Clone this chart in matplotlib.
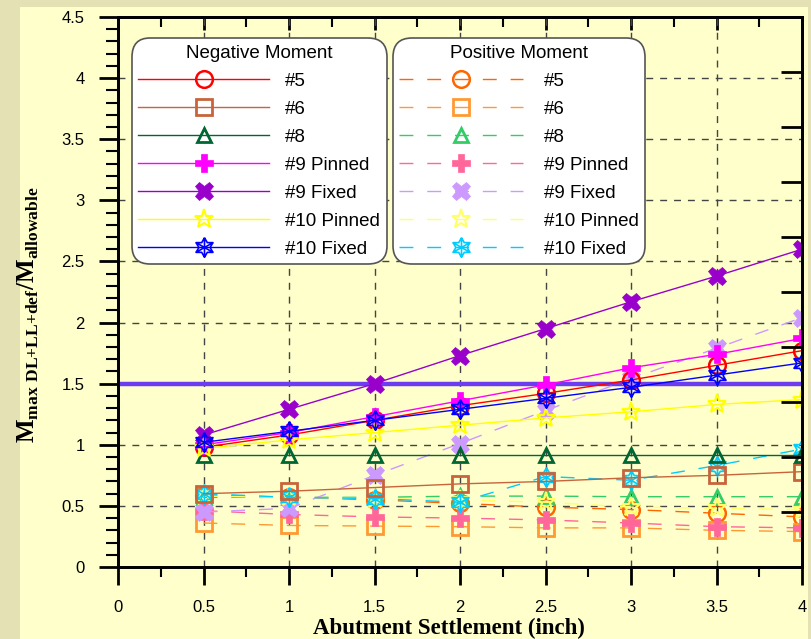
import matplotlib
matplotlib.use('Agg')
import matplotlib.pyplot as plt
import matplotlib.path as mpath
from matplotlib.patches import Rectangle
import numpy as np

# abutment settlement (inch)
settlement = [0.5, 1.0, 1.5, 2.0, 2.5, 3.0, 3.5, 4.0]

# negative moment ratios
neg_5 = [0.98, 1.08, 1.20, 1.32, 1.42, 1.53, 1.65, 1.77]
neg_6 = [0.60, 0.62, 0.65, 0.68, 0.70, 0.73, 0.75, 0.78]
neg_8 = [0.92, 0.92, 0.92, 0.92, 0.92, 0.92, 0.92, 0.92]
neg_9_pinned = [1.00, 1.10, 1.23, 1.36, 1.49, 1.63, 1.74, 1.87]
neg_9_fixed = [1.08, 1.29, 1.50, 1.73, 1.95, 2.17, 2.38, 2.60]
neg_10_pinned = [0.97, 1.04, 1.10, 1.16, 1.22, 1.27, 1.33, 1.37]
neg_10_fixed = [1.02, 1.11, 1.20, 1.29, 1.38, 1.47, 1.57, 1.67]

# positive moment ratios
pos_5 = [0.59, 0.57, 0.55, 0.52, 0.49, 0.47, 0.44, 0.41]
pos_6 = [0.36, 0.34, 0.335, 0.33, 0.32, 0.32, 0.30, 0.29]
pos_8 = [0.57, 0.57, 0.57, 0.58, 0.58, 0.575, 0.575, 0.575]
pos_9_pinned = [0.46, 0.43, 0.41, 0.40, 0.385, 0.36, 0.33, 0.32]
pos_9_fixed = [0.45, 0.48, 0.75, 1.01, 1.28, 1.54, 1.79, 2.04]
pos_10_pinned = [0.58, 0.57, 0.56, 0.55, 0.53, 0.49, 0.48, 0.47]
pos_10_fixed = [0.60, 0.57, 0.56, 0.53, 0.74, 0.71, 0.83, 0.965]

labels = ['#5', '#6', '#8', '#9 Pinned', '#9 Fixed', '#10 Pinned', '#10 Fixed']
limit = 1.5

# star of david with spokes, for the #10 Fixed marker
ang_out = np.deg2rad(90 + 60 * np.arange(6))
ang_in = ang_out + np.deg2rad(30)
verts = []
for i in range(6):
    verts.append((np.cos(ang_out[i]), np.sin(ang_out[i])))
    verts.append((0.577 * np.cos(ang_in[i]), 0.577 * np.sin(ang_in[i])))
verts.append(verts[0])
codes = [mpath.Path.MOVETO] + [mpath.Path.LINETO] * 12
for i in range(3):
    verts += [(np.cos(ang_out[i]), np.sin(ang_out[i])),
              (np.cos(ang_out[i + 3]), np.sin(ang_out[i + 3]))]
    codes += [mpath.Path.MOVETO, mpath.Path.LINETO]
snow = mpath.Path(verts, codes)

plt.rcParams['font.family'] = 'Liberation Sans'
plt.rcParams['mathtext.fontset'] = 'custom'
plt.rcParams['mathtext.rm'] = 'Liberation Serif:bold'
plt.rcParams['mathtext.bf'] = 'Liberation Serif:bold'

fig = plt.figure(figsize=(8.11, 6.39), dpi=100, facecolor='#e4e2b4')
fig.patches.append(Rectangle((20 / 811, 0), 788 / 811, 632 / 639, transform=fig.transFigure,
                             facecolor='#ffffcc', edgecolor='none', zorder=-10))
ax = fig.add_axes([118 / 811, 72 / 639, 684 / 811, 550 / 639])
ax.set_facecolor('#ffffcc')

neg_data = [neg_5, neg_6, neg_8, neg_9_pinned, neg_9_fixed, neg_10_pinned, neg_10_fixed]
pos_data = [pos_5, pos_6, pos_8, pos_9_pinned, pos_9_fixed, pos_10_pinned, pos_10_fixed]
neg_colors = ['#ff0000', '#c8643c', '#006633', '#ff00ff', '#9900cc', '#ffff00', '#0000ff']
pos_colors = ['#ff6600', '#ff9933', '#33cc66', '#ff6699', '#cc99ff', '#ffff66', '#00ccff']
markers = ['o', 's', '^', 'P', 'X', '*', snow]
msizes = [12, 12, 10, 13, 13, 14, 14]
filled = [False, False, False, True, True, False, False]
edge_w = [1.8, 2, 2, 0.5, 0.5, 1.5, 1.2]

neg_lines = []
pos_lines = []
for data, col, mk, ms, fl, mw, lab in zip(pos_data, pos_colors, markers, msizes, filled, edge_w, labels):
    l, = ax.plot(settlement, data, color=col, lw=1, dashes=(10, 10), marker=mk, ms=ms,
                 mfc=col if fl else 'none', mec=col, mew=mw, label=lab, zorder=3)
    pos_lines.append(l)
for data, col, mk, ms, fl, mw, lab in zip(neg_data, neg_colors, markers, msizes, filled, edge_w, labels):
    l, = ax.plot(settlement, data, color=col, lw=1, marker=mk, ms=ms,
                 mfc=col if fl else 'none', mec=col, mew=mw, label=lab, zorder=4)
    neg_lines.append(l)

ax.axhline(limit, color='#6b3cf0', lw=3.2, zorder=2.5)

ax.set_xlim(0, 4)
ax.set_ylim(0, 4.5)
ax.set_xticks(np.arange(0, 4.01, 0.5))
ax.set_xticklabels(['0', '0.5', '1', '1.5', '2', '2.5', '3', '3.5', '4'])
ax.set_yticks(np.arange(0, 4.51, 0.5))
ax.set_yticklabels(['0', '0.5', '1', '1.5', '2', '2.5', '3', '3.5', '4', '4.5'])
ax.set_xticks(np.arange(0, 4.01, 0.25), minor=True)
ax.set_yticks(np.arange(0, 4.51, 0.1), minor=True)
ax.grid(True, which='major', color='#444444', ls='--', lw=1, dashes=(5, 5))
ax.set_axisbelow(True)

ax.tick_params(axis='both', which='major', labelsize=12, width=2, colors='black')
ax.tick_params(axis='x', which='major', direction='out', length=13, pad=11)
ax.tick_params(axis='x', which='minor', direction='out', length=7, width=1.5)
ax.tick_params(axis='y', which='major', direction='out', length=14, pad=10)
ax.tick_params(axis='y', which='minor', direction='out', length=9, width=1.5)
for sp in ax.spines.values():
    sp.set_linewidth(2)

# ticks on top side
top = ax.secondary_xaxis('top')
top.set_xticks(np.arange(0, 4.01, 0.5))
top.set_xticks(np.arange(0, 4.01, 0.25), minor=True)
top.tick_params(which='major', direction='in', length=9, width=2, labeltop=False)
top.tick_params(which='minor', direction='in', length=7, width=1.5)
top.spines['top'].set_linewidth(2)

# right axis, unlabeled, 10 divisions
right = ax.twinx()
right.set_ylim(0, 5)
right.set_yticks(np.arange(0, 5.01, 0.5))
right.tick_params(axis='y', direction='in', length=15, width=2, labelright=False)
for sp in right.spines.values():
    sp.set_linewidth(2)

ax.set_xlabel('Abutment Settlement (inch)', fontsize=16.5, fontweight='bold',
              family='Liberation Serif')
ax.xaxis.set_label_coords(0.484, -0.092)
ax.set_ylabel(r'$\mathbf{M}_{\mathbf{max\ DL{+}LL{+}def}}/\mathbf{M}_{\mathbf{allowable}}$',
              fontsize=18)
ax.yaxis.set_label_coords(-0.113, 0.458)

leg1 = ax.legend(handles=neg_lines, title='Negative Moment', loc='upper left',
                 bbox_to_anchor=(0.013, 0.97), fontsize=13.5, title_fontsize=13.5,
                 handlelength=7.0, handletextpad=0.85, labelspacing=0.58, numpoints=1,
                 facecolor='white', edgecolor='#555555', framealpha=1, borderpad=0.1)
leg1.get_frame().set_boxstyle('round', pad=0.25, rounding_size=1.0)
leg1.get_frame().set_linewidth(1.2)
leg1.set_zorder(10)
ax.add_artist(leg1)
leg2 = ax.legend(handles=pos_lines, title='Positive Moment', loc='upper left',
                 bbox_to_anchor=(0.395, 0.97), fontsize=13.5, title_fontsize=13.5,
                 handlelength=6.6, handletextpad=1.1, labelspacing=0.58, numpoints=1,
                 facecolor='white', edgecolor='#555555', framealpha=1, borderpad=0.1)
leg2.get_frame().set_boxstyle('round', pad=0.25, rounding_size=1.0)
leg2.get_frame().set_linewidth(1.2)
leg2.set_zorder(10)

fig.savefig('out.png', dpi=100, facecolor=fig.get_facecolor())
